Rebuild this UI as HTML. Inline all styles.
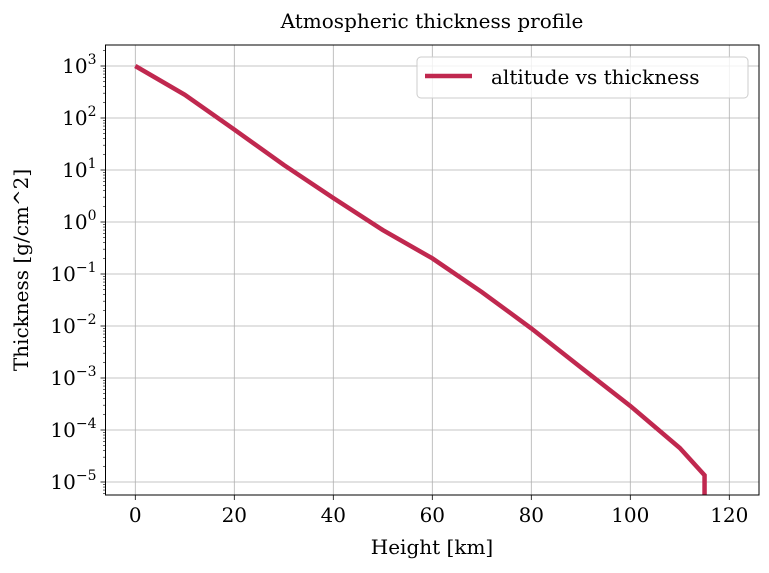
<!DOCTYPE html>
<html><head><meta charset="utf-8"><style>
body{margin:0;background:#fff}
svg text{font-family:"DejaVu Serif","Liberation Serif",serif;fill:#000}
</style></head><body>
<svg id="chart" width="769" height="568" xmlns="http://www.w3.org/2000/svg">
<rect width="769" height="568" fill="#fff"/>
<text x="432" y="28" font-size="20" text-anchor="middle">Atmospheric thickness profile</text>
<g id="grid"></g><g id="plot"></g><g id="axes"></g>
<text x="432" y="554" font-size="20" text-anchor="middle">Height [km]</text>
<text transform="translate(28,270) rotate(-90)" font-size="20" text-anchor="middle">Thickness [g/cm^2]</text>
<g>
<rect x="417" y="57" width="331" height="41" rx="4" fill="#fff" fill-opacity="0.8" stroke="#ccc"/>
<line x1="425" y1="76" x2="472" y2="76" stroke="#c0284f" stroke-width="4.5"/>
<text x="491" y="84" font-size="20">altitude vs thickness</text>
</g>
</svg>
<script>
const heights=[0,10,20,30,40,50,60,70,80,90,100,110,115,115];
const thickness=[1000,280,60,12.5,2.9,0.7,0.2,0.045,0.009,0.0016,0.00029,0.000045,0.0000135,0.000001];
const xTicks=[0,20,40,60,80,100,120];
const yTicks=[3,2,1,0,-1,-2,-3,-4,-5];
const L=105.5,R=759,T=45,B=495;
const x0=135.3,xs=4.95,y3=66,ys=52;
const X=v=>x0+v*xs;
const Y=v=>y3+(3-Math.log10(v))*ys;
const YL=l=>y3+(3-l)*ys;
const NS="http://www.w3.org/2000/svg";
function mk(tag,attrs,parent){const e=document.createElementNS(NS,tag);for(const k in attrs)e.setAttribute(k,attrs[k]);parent.appendChild(e);return e;}
const grid=document.getElementById('grid'),plot=document.getElementById('plot'),axes=document.getElementById('axes');
xTicks.forEach(t=>{
  const g=mk('line',{x1:X(t),x2:X(t),y1:T,y2:B,stroke:'#b0b0b0','stroke-width':0.8},grid);
  
  
  mk('line',{x1:X(t),x2:X(t),y1:B,y2:B+5,stroke:'#000','stroke-width':0.8},axes);
  const tx=mk('text',{x:X(t),y:B+27,'font-size':20,'text-anchor':'middle'},axes);
  tx.textContent=t;
  
  
});
yTicks.forEach(l=>{
  const g=mk('line',{x1:L,x2:R,y1:YL(l),y2:YL(l),stroke:'#b0b0b0','stroke-width':0.8},grid);
  
  
  mk('line',{x1:L-5,x2:L,y1:YL(l),y2:YL(l),stroke:'#000','stroke-width':0.8},axes);
  const tx=mk('text',{x:L-9,y:YL(l)+7,'font-size':20,'text-anchor':'end'},axes);
  tx.innerHTML='10<tspan dy="-9" font-size="14">'+(l<0?'\u2212'+(-l):l)+'</tspan>';
  
  
});
for(let d=-6;d<4;d++){for(let m=2;m<10;m++){const y=YL(d+Math.log10(m));if(y>T&&y<B)mk('line',{x1:L-2.5,x2:L,y1:y,y2:y,stroke:'#000','stroke-width':0.6},axes);}}
mk('rect',{x:L,y:T,width:R-L,height:B-T,fill:'none',stroke:'#000','stroke-width':1},axes);
mk('clipPath',{id:'cp'},plot).appendChild(document.createElementNS(NS,'rect'));
const cr=plot.querySelector('#cp rect');cr.setAttribute('x',L);cr.setAttribute('y',T);cr.setAttribute('width',R-L);cr.setAttribute('height',B-T);
const pts=heights.map((h,i)=>X(h)+','+Y(thickness[i])).join(' ');
const line=mk('polyline',{points:pts,fill:'none',stroke:'#c0284f','stroke-width':4.5,'clip-path':'url(#cp)'},plot);


</script>
</body></html>
